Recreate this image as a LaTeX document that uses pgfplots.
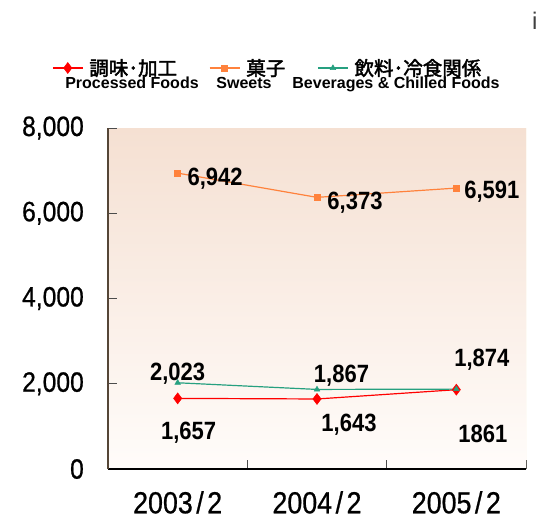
\documentclass[border=0pt]{standalone}
\usepackage{fontspec}
\setmainfont{Liberation Sans}
\newfontfamily\narrow[FakeStretch=0.88]{Liberation Sans}
\newfontfamily\narrowm[FakeStretch=0.88,FakeBold=0.7]{Liberation Sans}
\newfontfamily\jp[FakeBold=2.2]{Noto Sans CJK JP}
\usepackage{pgfplots}
\pgfplotsset{compat=1.18}
\definecolor{cRed}{RGB}{255,0,0}
\definecolor{cOrange}{RGB}{255,130,60}
\definecolor{cTeal}{RGB}{38,160,128}
\definecolor{bgTop}{RGB}{245,224,210}
\definecolor{bgBot}{RGB}{255,252,250}
\definecolor{yaxis}{RGB}{85,70,55}
\definecolor{redge}{RGB}{245,232,195}
\begin{document}
\begin{tikzpicture}
\useasboundingbox (0pt,0pt) rectangle (537pt,-520pt);
\begin{axis}[
  at={(108pt,-469pt)}, anchor=south west,
  scale only axis, width=418pt, height=341pt,
  xmin=-0.5, xmax=2.5, ymin=0, ymax=8000,
  axis lines*=left,
  x axis line style={line width=2pt, black},
  y axis line style={line width=1.2pt, yaxis},
  axis background/.style={shade, top color=bgTop, bottom color=bgBot},
  xtick={-0.5,0.5,1.5,2.5},
  x tick label as interval,
  xticklabels={2003\hspace{3.5pt}/\hspace{3.5pt}2,2004\hspace{3.5pt}/\hspace{3.5pt}2,2005\hspace{3.5pt}/\hspace{3.5pt}2},
  ytick={0,2000,4000,6000,8000},
  scaled y ticks=false,
  /pgf/number format/assume math mode=true,
  /pgf/number format/1000 sep={,},
  tick align=inside,
  major tick length=9pt,
  tick style={color=black!70, line width=1pt},
  yticklabel style={font=\narrowm\fontsize{28}{28}\selectfont, inner sep=0pt, anchor=east, xshift=-24pt},
  xticklabel style={font=\narrowm\fontsize{30.5}{30}\selectfont, inner sep=0pt, anchor=north, yshift=-22pt},
  legend columns=3,
  legend image code/.code={\draw[mark repeat=2,mark phase=2] plot coordinates {(0pt,0pt)(15pt,0pt)(30pt,0pt)};},
  legend style={draw=none, fill=none, inner sep=0pt, at={(-0.134,1.176)}, anchor=west,
    font=\jp\fontsize{19.5}{20}\selectfont,
    nodes={inner sep=0pt},
    /tikz/every odd column/.append style={column sep=6pt},
    /tikz/every even column/.append style={column sep=32pt}},
  legend cell align=left,
]
\addplot[cRed, line width=1.2pt, mark=diamond*, mark size=5.5pt, mark options={solid, fill=cRed, draw=cRed, line width=0.5pt}]
  coordinates {(0,1657) (1,1643) (2,1861)};
\addlegendentry{調味･加工}
\addplot[cOrange, line width=1.2pt, mark=square*, mark size=3pt, mark options={solid, fill=cOrange, draw=cOrange, line width=0.5pt}]
  coordinates {(0,6942) (1,6373) (2,6591)};
\addlegendentry{菓子}
\addplot[cTeal, line width=1.2pt, mark=triangle*, mark size=3.2pt, mark options={solid, fill=cTeal, draw=cTeal, line width=0.5pt}]
  coordinates {(0,2023) (1,1867) (2,1874)};
\addlegendentry{飲料･冷食関係}
\draw[redge, line width=1pt] (rel axis cs:1,0) -- (rel axis cs:1,1);
\tikzset{lab/.style={anchor=base, inner sep=0pt, font=\narrow\bfseries\fontsize{25}{25}\selectfont}}
\node[lab, xshift=37.5pt, yshift=-12pt] at (axis cs:0,6942) {6,942};
\node[lab, xshift=38pt, yshift=-12pt] at (axis cs:1,6373) {6,373};
\node[lab, xshift=35.5pt, yshift=-10pt] at (axis cs:2,6591) {6,591};
\node[lab, xshift=0pt, yshift=2pt] at (axis cs:0,2023) {2,023};
\node[lab, xshift=24.5pt, yshift=7pt] at (axis cs:1,1867) {1,867};
\node[lab, xshift=25.5pt, yshift=23pt] at (axis cs:2,1874) {1,874};
\node[lab, xshift=11pt, yshift=-41pt] at (axis cs:0,1657) {1,657};
\node[lab, xshift=32pt, yshift=-33pt] at (axis cs:1,1643) {1,643};
\node[lab, xshift=26.5pt, yshift=-53pt] at (axis cs:2,1861) {1861};
\end{axis}
\tikzset{eng/.style={anchor=base, inner sep=0pt, font=\bfseries\fontsize{16}{16}\selectfont}}
\node[eng] at (132pt,-88pt) {Processed Foods};
\node[eng] at (244pt,-88pt) {Sweets};
\node[eng] at (396pt,-88pt) {Beverages \& Chilled Foods};
\node[anchor=north west, inner sep=0pt, text=black!75, font=\fontsize{24}{24}\selectfont] at (532pt,-12pt) {i};
\end{tikzpicture}
\end{document}
